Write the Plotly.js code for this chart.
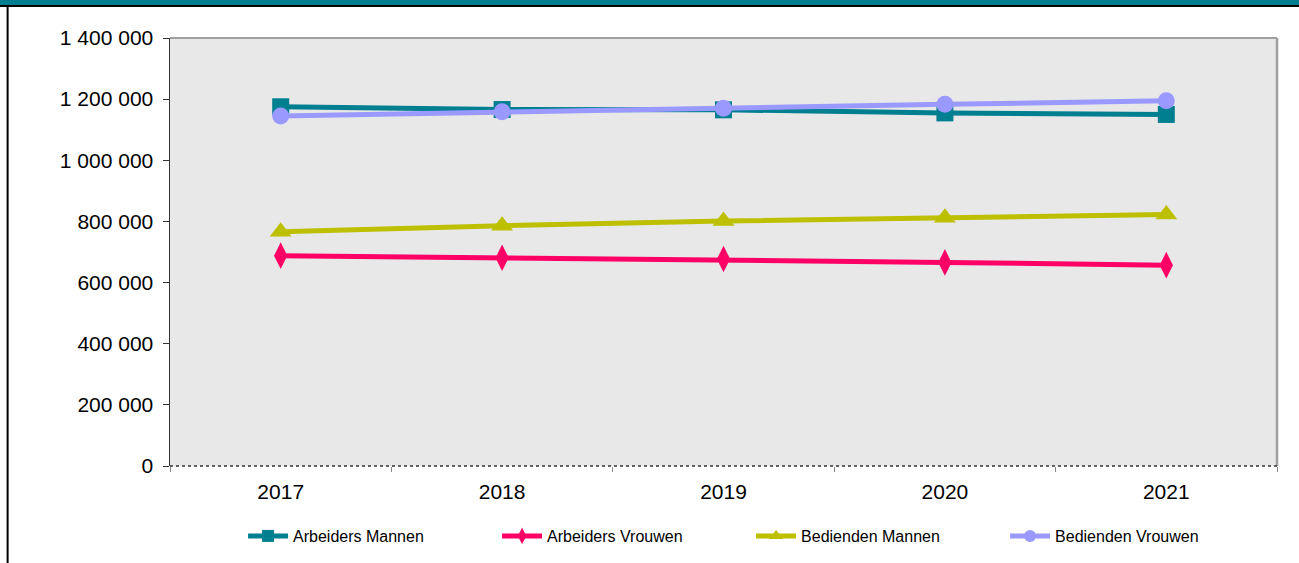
<!DOCTYPE html>
<html>
<head>
<meta charset="utf-8">
<script src="https://cdn.plot.ly/plotly-3.0.1.min.js"></script>
<style>
html,body{margin:0;padding:0;background:#fff;}
#chart{width:1299px;height:563px;}
</style>
</head>
<body>
<div id="chart"></div>
<script>
const years = ['2017', '2018', '2019', '2020', '2021'];
const arbeidersMannen = [1175000, 1166000, 1165000, 1155000, 1150000];
const arbeidersVrouwen = [688000, 681000, 677000, 666000, 657000];
const bediendenMannen = [766000, 786000, 801000, 812000, 823000];
const bediendenVrouwen = [1145000, 1159000, 1170000, 1183000, 1195000];
const seriesNames = ['Arbeiders Mannen', 'Arbeiders Vrouwen', 'Bedienden Mannen', 'Bedienden Vrouwen'];

const FONT = 'Arial, "Liberation Sans", sans-serif';

function tr(name, y, color, symbol, size) {
  return {
    type: 'scatter', mode: 'lines+markers', name: name, x: years, y: y,
    line: {color: color, width: 5},
    marker: {color: color, symbol: symbol, size: size},
    cliponaxis: false
  };
}

const data = [
  tr(seriesNames[0], arbeidersMannen, '#007F91', 'square', 17),
  tr(seriesNames[1], arbeidersVrouwen, '#FF0066', 'diamond-tall', 19),
  tr(seriesNames[2], bediendenMannen, '#BCC000', 'triangle-up', 19),
  tr(seriesNames[3], bediendenVrouwen, '#9999FF', 'circle', 17)
];

const layout = {
  width: 1299, height: 563,
  margin: {l: 170, r: 22, t: 38, b: 97, autoexpand: false},
  paper_bgcolor: '#ffffff',
  plot_bgcolor: '#E8E8E8',
  separators: ', ',
  font: {family: FONT, color: '#000'},
  showlegend: true,
  legend: {
    orientation: 'h', x: 0.066, xanchor: 'left', y: -0.1636, yanchor: 'middle',
    font: {family: FONT, size: 16, color: '#000'},
    entrywidth: 199, entrywidthmode: 'pixels',
    itemwidth: 40, bgcolor: 'rgba(0,0,0,0)', itemsizing: 'constant'
  },
  xaxis: {
    type: 'category', range: [-0.5, 4.5],
    showgrid: false, zeroline: false, showline: false,
    ticks: 'outside', tickson: 'boundaries', ticklen: 5, tickcolor: '#888', tickwidth: 1,
    tickfont: {family: FONT, size: 21, color: '#000'},
    ticklabelstandoff: 11
  },
  yaxis: {
    range: [0, 1400000], dtick: 200000, tickformat: ',d',
    showgrid: false, zeroline: false,
    showline: true, linecolor: '#333', linewidth: 1.5,
    ticks: 'outside', ticklen: 6, tickcolor: '#333', tickwidth: 1,
    tickfont: {family: FONT, size: 21, color: '#000'},
    ticklabelstandoff: 5
  },
  shapes: [
    {type: 'line', xref: 'paper', yref: 'paper', x0: 0, x1: 1, y0: 1, y1: 1, line: {color: '#A0A0A0', width: 2}},
    {type: 'line', xref: 'paper', yref: 'paper', x0: 1, x1: 1, y0: 0, y1: 1, line: {color: '#A0A0A0', width: 2.5}},
    {type: 'line', xref: 'paper', yref: 'paper', x0: 0, x1: 1, y0: 0, y1: 0, line: {color: '#333', width: 1.5, dash: 'dot'}},
    {type: 'rect', xref: 'paper', yref: 'paper', x0: -0.16, x1: 1.03, y0: 1.0770, y1: 1.095, fillcolor: '#007F91', line: {width: 0}, layer: 'above'},
    {type: 'line', xref: 'paper', yref: 'paper', x0: -0.16, x1: 1.03, y0: 1.0747, y1: 1.0747, line: {color: '#000', width: 2}},
    {type: 'line', xref: 'paper', yref: 'paper', x0: -0.1467, x1: -0.1467, y0: -0.25, y1: 1.0747, line: {color: '#000', width: 2}}
  ]
};

Plotly.newPlot('chart', data, layout, {displayModeBar: false, staticPlot: true});
</script>
</body>
</html>
